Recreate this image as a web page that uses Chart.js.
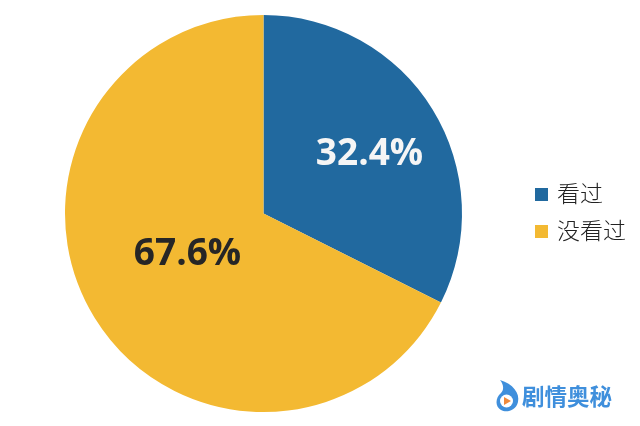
<!DOCTYPE html>
<html><head><meta charset="utf-8">
<style>html,body{margin:0;padding:0;background:#fff}#w{position:relative;width:640px;height:426px;overflow:hidden}canvas{position:absolute;left:0;top:0}</style>
<script src="https://cdn.jsdelivr.net/npm/chart.js"></script></head><body><div id="w"><canvas id="c" width="640" height="426"></canvas></div>
<script>
const categories=['看过','没看过'];
const values=[32.4,67.6];
const colors=['#21699f','#f3b932'];
const labelColors=['#f5f5f5','#262626'];
const watermark='剧情奥秘';
const CJK='"Noto Sans CJK SC"';
const labelOffsets=[[106,-59],[-76,41]];
const extras={id:'extras',afterDraw(ch){
 const g=ch.ctx,a=ch.getDatasetMeta(0).data;
 g.save();g.textAlign='center';g.textBaseline='middle';g.font='bold 37px "Open Sans"';
 a.forEach((arc,i)=>{g.fillStyle=labelColors[i];
  g.fillText(values[i].toFixed(1)+'%',arc.x+labelOffsets[i][0],arc.y+labelOffsets[i][1]);});
 g.textAlign='left';g.font='300 23px '+CJK;
 categories.forEach((t,i)=>{const y=194.5+i*37;g.fillStyle=colors[i];g.fillRect(535,y-6.5,13,13);g.fillStyle='#222';g.fillText(t,557,y-1);});
 g.font='bold 22.5px '+CJK;g.fillStyle='#3f8fdc';g.fillText(watermark,522,396);
 g.fillStyle='#3f8fdc';
 g.beginPath();g.moveTo(500,380);g.bezierCurveTo(513,384,520,393,518,402);g.bezierCurveTo(516,411,506,413,501,410);g.bezierCurveTo(495,407,495,398,501,393);g.bezierCurveTo(504,390,504,385,500,380);g.closePath();g.fill();
 g.fillStyle='#fff';g.beginPath();g.arc(506.5,401,6.5,0,Math.PI*2);g.fill();
 g.fillStyle='#f08a3c';g.beginPath();g.moveTo(504,397);g.lineTo(511,401);g.lineTo(504,405);g.closePath();g.fill();
 g.restore();}};
new Chart(document.getElementById('c'),{type:'pie',data:{labels:categories,datasets:[{data:values,backgroundColor:colors,borderWidth:0}]},
options:{responsive:false,animation:false,layout:{padding:{left:65,right:178,top:15,bottom:14}},plugins:{legend:{display:false},tooltip:{enabled:false}}},plugins:[extras]});
</script></body></html>
